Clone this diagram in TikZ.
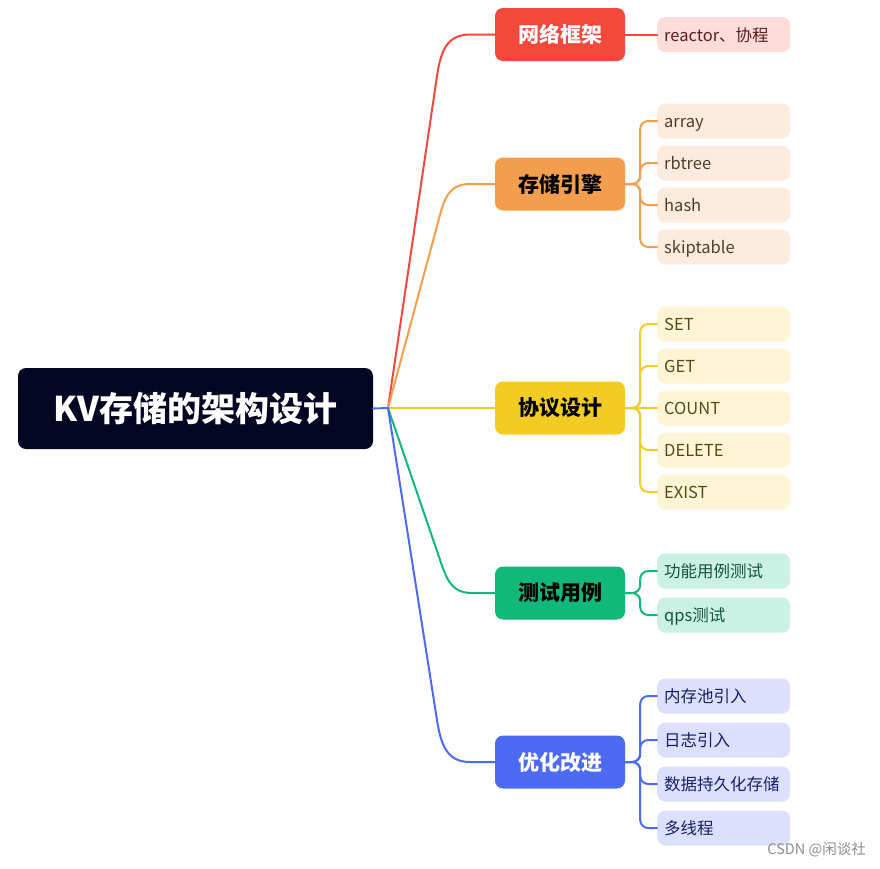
\documentclass[tikz,border=0pt]{standalone}
\usepackage{fontspec}
\setmainfont{Noto Sans CJK SC}
\usetikzlibrary{calc}
\definecolor{croot}{RGB}{5,5,36}
\definecolor{cred}{RGB}{245,72,60}
\definecolor{corange}{RGB}{242,158,76}
\definecolor{cyellow}{RGB}{242,204,35}
\definecolor{cgreen}{RGB}{16,184,122}
\definecolor{cblue}{RGB}{77,107,242}
\definecolor{lred}{RGB}{253,220,218}
\definecolor{lorange}{RGB}{253,235,222}
\definecolor{lyellow}{RGB}{254,245,214}
\definecolor{lgreen}{RGB}{202,241,227}
\definecolor{lblue}{RGB}{220,224,252}
\definecolor{tred}{RGB}{90,30,28}
\definecolor{torange}{RGB}{85,60,40}
\definecolor{tyellow}{RGB}{85,75,25}
\definecolor{tgreen}{RGB}{20,85,62}
\definecolor{tblue}{RGB}{22,32,105}
\begin{document}
\begin{tikzpicture}[x=1pt,y=-1pt,
  rootbox/.style={fill=croot, rounded corners=8pt, minimum width=355pt, minimum height=81pt,
    inner sep=0pt, text=white, font=\fontsize{34}{38}\selectfont\bfseries},
  mainbox/.style={rounded corners=8pt, minimum width=130pt, minimum height=53pt,
    inner sep=0pt, font=\fontsize{21}{24}\selectfont\bfseries},
  leafbox/.style={rounded corners=8pt, minimum height=35pt, text width=119pt,
    text height=15pt, text depth=1.5pt,
    inner xsep=7pt, inner ysep=0pt, align=left, anchor=west,
    font=\fontsize{16.5}{19}\selectfont},
  link/.style={line width=2pt, line cap=round},
  bracket/.style={link, rounded corners=8pt}
]
\useasboundingbox (0,0) rectangle (880,868);

% root
\node[rootbox] (root) at (195.5,408.5) {KV存储的架构设计};
\coordinate (hub) at (388,408);

% main nodes
\node[mainbox, fill=cred, text=white] (m1) at (560,34.5) {网络框架};
\node[mainbox, fill=corange, text=black] (m2) at (560,184) {存储引擎};
\node[mainbox, fill=cyellow, text=black] (m3) at (560,408) {协议设计};
\node[mainbox, fill=cgreen, text=black] (m4) at (560,593) {测试用例};
\node[mainbox, fill=cblue, text=white] (m5) at (560,762) {优化改进};

% leaves
\node[leafbox, fill=lred, text=tred] (l1a) at (657,34.5) {reactor、协程};

\node[leafbox, fill=lorange, text=torange] (l2a) at (657,121) {array};
\node[leafbox, fill=lorange, text=torange] (l2b) at (657,163) {rbtree};
\node[leafbox, fill=lorange, text=torange] (l2c) at (657,205) {hash};
\node[leafbox, fill=lorange, text=torange] (l2d) at (657,247) {skiptable};

\node[leafbox, fill=lyellow, text=tyellow] (l3a) at (657,324) {SET};
\node[leafbox, fill=lyellow, text=tyellow] (l3b) at (657,366) {GET};
\node[leafbox, fill=lyellow, text=tyellow] (l3c) at (657,408) {COUNT};
\node[leafbox, fill=lyellow, text=tyellow] (l3d) at (657,450) {DELETE};
\node[leafbox, fill=lyellow, text=tyellow] (l3e) at (657,492) {EXIST};

\node[leafbox, fill=lgreen, text=tgreen] (l4a) at (657,571) {功能用例测试};
\node[leafbox, fill=lgreen, text=tgreen] (l4b) at (657,615) {qps测试};

\node[leafbox, fill=lblue, text=tblue] (l5a) at (657,696) {内存池引入};
\node[leafbox, fill=lblue, text=tblue] (l5b) at (657,740) {日志引入};
\node[leafbox, fill=lblue, text=tblue] (l5c) at (657,784) {数据持久化存储};
\node[leafbox, fill=lblue, text=tblue] (l5d) at (657,828) {多线程};

% root to hub
\draw[link, cblue] (root.east) -- (hub);

% hub to main nodes
\draw[link, cred] (hub) -- (437,76) .. controls (440.7,51) and (447,34.5) .. (470,34.5) -- (m1.west);
\draw[link, corange] (hub) -- (437,226) .. controls (443.7,201) and (447,184) .. (470,184) -- (m2.west);
\draw[link, cyellow] (hub) -- (m3.west);
\draw[link, cgreen] (hub) -- (437,551) .. controls (445.6,576) and (449,593) .. (472,593) -- (m4.west);
\draw[link, cblue] (hub) -- (437,720) .. controls (440.9,745) and (447,762) .. (470,762) -- (m5.west);

% brackets
\draw[link, cred] (m1.east) -- (l1a.west);

\foreach \l in {l2a,l2b,l2c,l2d}
  \draw[bracket, corange] (m2.east) -- ++(15,0) |- (\l.west);

\foreach \l in {l3a,l3b,l3d,l3e}
  \draw[bracket, cyellow] (m3.east) -- ++(15,0) |- (\l.west);
\draw[link, cyellow] (m3.east) -- (l3c.west);

\foreach \l in {l4a,l4b}
  \draw[bracket, cgreen] (m4.east) -- ++(15,0) |- (\l.west);

\foreach \l in {l5a,l5b,l5c,l5d}
  \draw[bracket, cblue] (m5.east) -- ++(15,0) |- (\l.west);

% watermark
\node[anchor=east, text=black!45, font=\fontsize{14.5}{16}\selectfont, inner sep=0pt] (wm) at (866,850) {CSDN @闲谈社};
\end{tikzpicture}
\end{document}
